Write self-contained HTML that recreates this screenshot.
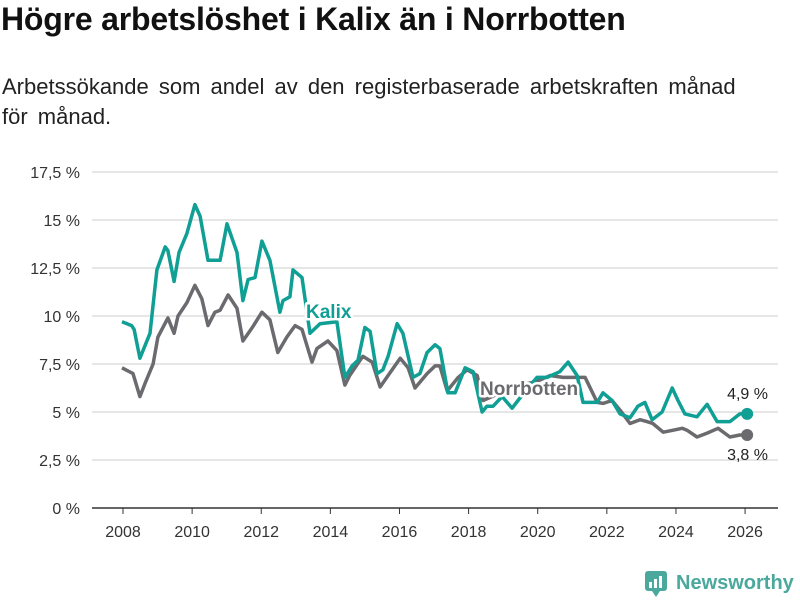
<!DOCTYPE html>
<html><head><meta charset="utf-8"><style>
body{margin:0;background:#fff;font-family:"Liberation Sans","DejaVu Sans",sans-serif;}
#wrap{position:relative;width:800px;height:600px;overflow:hidden;}
h1{position:absolute;left:1px;top:1px;margin:0;font-size:32px;font-weight:bold;color:#111;letter-spacing:-0.2px;}
p.sub{position:absolute;left:2px;top:72px;margin:0;font-size:22px;line-height:30px;color:#222;width:750px;word-spacing:4px;}
</style></head><body>
<div id="wrap">
<h1>Högre arbetslöshet i Kalix än i Norrbotten</h1>
<p class="sub">Arbetssökande som andel av den registerbaserade arbetskraften månad för månad.</p>
<svg id="chart" width="800" height="600" style="position:absolute;left:0;top:0"></svg>
</div>
<script>
const kalixYears=[2007.97,2008.25,2008.32,2008.49,2008.78,2008.98,2009.22,2009.30,2009.48,2009.62,2009.85,2010.08,2010.23,2010.46,2010.81,2011.01,2011.30,2011.47,2011.62,2011.82,2012.02,2012.25,2012.54,2012.63,2012.83,2012.92,2013.18,2013.41,2013.70,2014.19,2014.42,2014.63,2014.80,2015.00,2015.15,2015.35,2015.52,2015.67,2015.93,2016.10,2016.39,2016.59,2016.80,2017.03,2017.17,2017.40,2017.61,2017.90,2018.13,2018.39,2018.53,2018.71,2018.97,2019.26,2019.43,2019.69,2019.98,2020.27,2020.64,2020.88,2021.14,2021.31,2021.72,2021.89,2022.15,2022.38,2022.67,2022.90,2023.10,2023.31,2023.60,2023.89,2024.06,2024.26,2024.61,2024.90,2025.19,2025.56,2025.85,2026.06];
const kalixValues=[9.7,9.5,9.3,7.8,9.1,12.4,13.6,13.4,11.8,13.3,14.3,15.8,15.2,12.9,12.9,14.8,13.3,10.8,11.9,12.0,13.9,12.9,10.2,10.8,11.0,12.4,12.0,9.1,9.6,9.7,6.8,7.4,7.7,9.4,9.2,7.0,7.2,7.9,9.6,9.1,6.8,7.0,8.1,8.5,8.3,6.0,6.0,7.3,7.1,5.0,5.3,5.3,5.8,5.2,5.6,6.2,6.8,6.8,7.1,7.6,6.9,5.5,5.5,6.0,5.6,4.9,4.7,5.3,5.5,4.6,5.0,6.25,5.6,4.9,4.75,5.4,4.5,4.5,4.9,4.9];
const norrYears=[2007.97,2008.29,2008.49,2008.64,2008.87,2009.01,2009.30,2009.48,2009.59,2009.85,2010.08,2010.28,2010.46,2010.66,2010.81,2011.04,2011.30,2011.47,2011.74,2012.02,2012.25,2012.48,2012.74,2012.98,2013.18,2013.47,2013.61,2013.93,2014.19,2014.42,2014.56,2014.94,2015.21,2015.44,2015.67,2016.02,2016.25,2016.45,2016.80,2017.03,2017.17,2017.38,2017.70,2017.96,2018.25,2018.42,2018.80,2019.30,2019.98,2020.36,2020.73,2021.14,2021.37,2021.72,2021.89,2022.15,2022.38,2022.67,2022.96,2023.16,2023.33,2023.63,2023.92,2024.18,2024.32,2024.61,2024.90,2025.22,2025.56,2025.85,2026.06];
const norrValues=[7.3,7.0,5.8,6.5,7.5,8.9,9.9,9.1,10.0,10.7,11.6,10.9,9.5,10.2,10.3,11.1,10.4,8.7,9.4,10.2,9.8,8.1,8.9,9.5,9.3,7.6,8.3,8.7,8.2,6.4,6.9,7.9,7.6,6.3,6.9,7.8,7.3,6.25,7.0,7.4,7.4,6.1,6.8,7.2,6.9,5.6,5.9,6.3,6.6,6.9,6.8,6.8,6.8,5.5,5.45,5.6,5.1,4.4,4.6,4.5,4.4,3.95,4.05,4.15,4.05,3.7,3.9,4.15,3.7,3.8,3.8,3.8];
const yTicks=[0,2.5,5,7.5,10,12.5,15,17.5];
const yTickLabels=["0 %","2,5 %","5 %","7,5 %","10 %","12,5 %","15 %","17,5 %"];
const xTicks=[2008,2010,2012,2014,2016,2018,2020,2022,2024,2026];

const svg=document.getElementById('chart');
const NS='http://www.w3.org/2000/svg';
const x=v=>123+(v-2008)*34.56;
const y=v=>508-v*19.2;
function mk(tag,attrs,parent){const e=document.createElementNS(NS,tag);for(const k in attrs)e.setAttribute(k,attrs[k]);(parent||svg).appendChild(e);return e;}

yTicks.forEach((t,i)=>{
  const g=mk('line',{x1:92,x2:778,y1:y(t),y2:y(t),stroke:t===0?'#333':'#ddd','stroke-width':1.5});
  
  
  const tx=mk('text',{x:80,y:y(t)+6,'text-anchor':'end','font-size':16,fill:'#333'});
  tx.textContent=yTickLabels[i];
  
  
});
xTicks.forEach(t=>{
  const tk=mk('line',{x1:x(t),x2:x(t),y1:508,y2:514,stroke:'#333','stroke-width':1});
  
  
  const tx=mk('text',{x:x(t),y:537,'text-anchor':'middle','font-size':16,fill:'#333'});
  tx.textContent=t;
  
  
});
function line(ys,vs,color,name){
  const d=ys.map((t,i)=>(i?'L':'M')+x(t).toFixed(1)+','+y(vs[i]).toFixed(1)).join('');
  const p=mk('path',{d:d,fill:'none',stroke:color,'stroke-width':3.5,'stroke-linejoin':'round'});
  
  
  const n=ys.length-1;
  const c=mk('circle',{cx:x(ys[n]),cy:y(vs[n]),r:6,fill:color});
  
  
}
line(norrYears,norrValues,'#6b6a6e','norrbotten');
line(kalixYears,kalixValues,'#0f9f94','kalix');
function label(txt,lx,ly,color,name,anchor,bold){
  const t=mk('text',{x:lx,y:ly,'font-size':bold?19:16,'font-weight':bold?'bold':'normal',fill:color,'text-anchor':anchor||'start',stroke:bold?'#fff':'none','stroke-width':bold?5:0,'paint-order':'stroke','stroke-linejoin':'round'});
  t.textContent=txt;
  
  
}
label('Kalix',306,318,'#0f9f94','kalix-series-label','start',true);
label('Norrbotten',480,395,'#6b6a6e','norrbotten-series-label','start',true);
label('4,9 %',768,399,'#222','kalix-end-value','end',false);
label('3,8 %',768,460,'#222','norrbotten-end-value','end',false);
const lg=mk('g',{});


mk('rect',{x:645,y:571,width:22,height:20,rx:3,fill:'#4aa89d'},lg);
mk('path',{d:'M652,591 L656,597 L660,591 Z',fill:'#4aa89d'},lg);
mk('rect',{x:649,y:582,width:3,height:6,fill:'#fff'},lg);
mk('rect',{x:654,y:579,width:3,height:9,fill:'#fff'},lg);
mk('rect',{x:659,y:576,width:3,height:12,fill:'#fff'},lg);
const lt=mk('text',{x:676,y:589,'font-size':20,'font-weight':'bold',fill:'#4aa89d'},lg);
lt.textContent='Newsworthy';
</script>
</body></html>
